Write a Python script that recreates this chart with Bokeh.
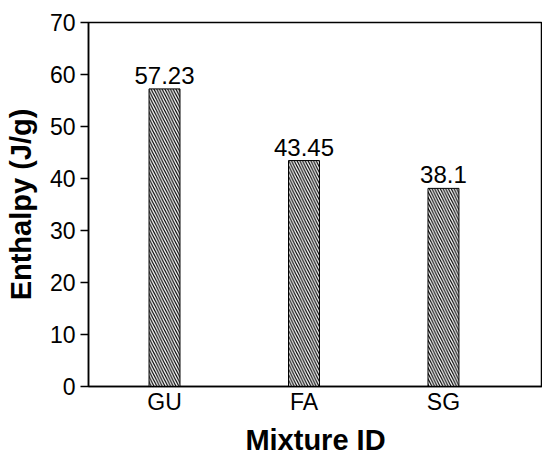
from bokeh.plotting import figure
from bokeh.models import ColumnDataSource, FixedTicker, LabelSet, Range1d
from bokeh.core.properties import value
from bokeh.embed import file_html
from bokeh.resources import INLINE

categories = ["GU", "FA", "SG"]
enthalpy = [57.23, 43.45, 38.1]
value_labels = ["57.23", "43.45", "38.1"]
y_ticks = [0, 10, 20, 30, 40, 50, 60, 70]

idx = list(range(len(categories)))
src = ColumnDataSource(dict(x=idx, y=enthalpy, lab=value_labels))

p = figure(x_range=Range1d(-0.545, 2.71), y_range=(0, 70), width=542, height=458,
           output_backend="svg", toolbar_location=None,
           min_border_left=88, min_border_right=0, min_border_top=22, min_border_bottom=72)

p.vbar(x="x", top="y", width=0.222, source=src, fill_color="white", line_color="black",
       line_width=1, hatch_pattern="\\", hatch_color="black", hatch_scale=5.5, hatch_weight=1.2)

labels = LabelSet(x="x", y="y", text="lab", source=src, text_align="center",
                  text_baseline="alphabetic", y_offset=5, text_font=value("Liberation Sans"),
                  text_font_size="24px", text_color="black")
p.add_layout(labels)

p.grid.visible = False
p.outline_line_color = "black"
p.outline_line_width = 1.5
p.outline_line_alpha = 1

p.xaxis.ticker = FixedTicker(ticks=idx)
p.xaxis.major_label_overrides = {i: c for i, c in zip(idx, categories)}
p.xaxis.minor_tick_line_color = None
p.xaxis.major_tick_line_color = None
p.xaxis.major_tick_in = 0
p.xaxis.major_tick_out = 0
p.xaxis.major_label_standoff = 2

p.yaxis.ticker = FixedTicker(ticks=y_ticks)
p.yaxis.minor_tick_line_color = None
p.yaxis.major_tick_in = 0
p.yaxis.major_tick_out = 8
p.yaxis.major_tick_line_width = 1.5
p.yaxis.major_label_standoff = 5

for ax in (p.xaxis, p.yaxis):
    ax.axis_line_color = "black"
    ax.axis_line_width = 1.5
    ax.major_label_text_font = "Liberation Sans"
    ax.major_label_text_font_size = "23px"
    ax.major_label_text_color = "black"
    ax.axis_label_text_font = "Liberation Sans"
    ax.axis_label_text_font_size = "29px"
    ax.axis_label_text_font_style = "bold"
    ax.axis_label_text_color = "black"

p.yaxis.axis_label = "Enthalpy (J/g)"
p.xaxis.axis_label = "Mixture ID"
p.yaxis.axis_label_standoff = 10
p.xaxis.axis_label_standoff = 6

open("out.html", "w").write(file_html(p, INLINE))
